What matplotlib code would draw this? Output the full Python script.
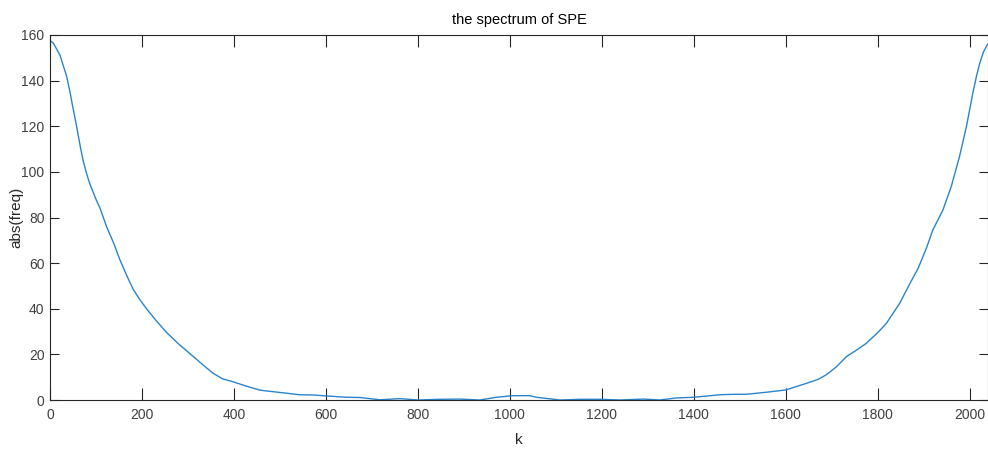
import matplotlib.pyplot as plt
from matplotlib import font_manager

# Magnitude spectrum samples (k, |X(k)|)
k = [0, 7, 14, 22, 29, 36, 43, 50, 58, 65, 72, 80, 87, 94, 101, 109, 123,
     138, 152, 167, 181, 196, 210, 230, 254, 280, 312, 335, 355, 375, 398,
     425, 457, 500, 543, 572, 600, 645, 674, 717, 761, 800, 848, 891, 935,
     971, 1007, 1022, 1043, 1058, 1109, 1152, 1199, 1239, 1290, 1326, 1362,
     1400, 1457, 1487, 1514, 1558, 1600, 1645, 1670, 1688, 1710, 1732,
     1755, 1775, 1800, 1819, 1848, 1870, 1888, 1905, 1920, 1942, 1960,
     1978, 1993, 2007, 2015, 2022, 2030, 2038, 2040]
mag = [157.5, 156.5, 154.0, 151.0, 146.5, 142.0, 135.5, 128.0, 119.8,
       112.0, 105.0, 99.0, 94.5, 91.0, 87.5, 84.0, 76.0, 69.0, 61.5, 54.5,
       48.5, 43.8, 40.0, 35.0, 29.5, 24.5, 19.0, 15.0, 11.7, 9.3, 8.0, 6.2,
       4.3, 3.3, 2.3, 2.2, 1.8, 1.2, 1.1, 0.1, 0.6, 0.0, 0.3, 0.4, 0.0, 1.2,
       1.9, 1.9, 1.9, 1.2, 0.0, 0.3, 0.3, 0.0, 0.4, 0.0, 0.9, 1.2, 2.3, 2.5,
       2.5, 3.4, 4.4, 7.3, 9.0, 11.0, 14.5, 19.0, 22.0, 24.8, 29.5, 33.6,
       42.4, 51.0, 57.7, 66.0, 74.5, 83.3, 93.5, 106.7, 119.8, 134.5, 142.0,
       147.6, 152.5, 155.6, 156.0]

xticks = list(range(0, 2001, 200))
yticks = list(range(0, 161, 20))

names = {f.name for f in font_manager.fontManager.ttflist}
fam = ['Liberation Sans Narrow'] if 'Liberation Sans Narrow' in names else []
plt.rcParams['font.family'] = fam + ['Liberation Sans', 'DejaVu Sans']

axcol = '#262626'
fig = plt.figure(figsize=(9.88, 4.5), dpi=100)
ax = fig.add_axes([50 / 988, 50 / 450, 938 / 988, 365 / 450])

ax.plot(k, mag, color='#2a84cc', linewidth=1.0)

ax.set_xlim(0, 2040)
ax.set_ylim(0, 160)
ax.set_xticks(xticks)
ax.set_yticks(yticks)
ax.tick_params(axis='both', direction='in', top=True, right=True,
               colors=axcol, labelcolor='#404040', labelsize=10, width=0.8)
ax.tick_params(axis='x', length=8.5, pad=6)
ax.tick_params(axis='y', length=6.5, pad=4)
for s in ax.spines.values():
    s.set_color(axcol)
    s.set_linewidth(0.8)

ax.set_title('the spectrum of SPE', fontsize=10.5, color='black', pad=8)
ax.set_xlabel('k', fontsize=11, color='#262626', labelpad=8)
ax.set_ylabel('abs(freq)', fontsize=11, color='#262626')
ax.yaxis.set_label_coords(-27 / 938, 0.5)

fig.savefig('out.png', dpi=100)
